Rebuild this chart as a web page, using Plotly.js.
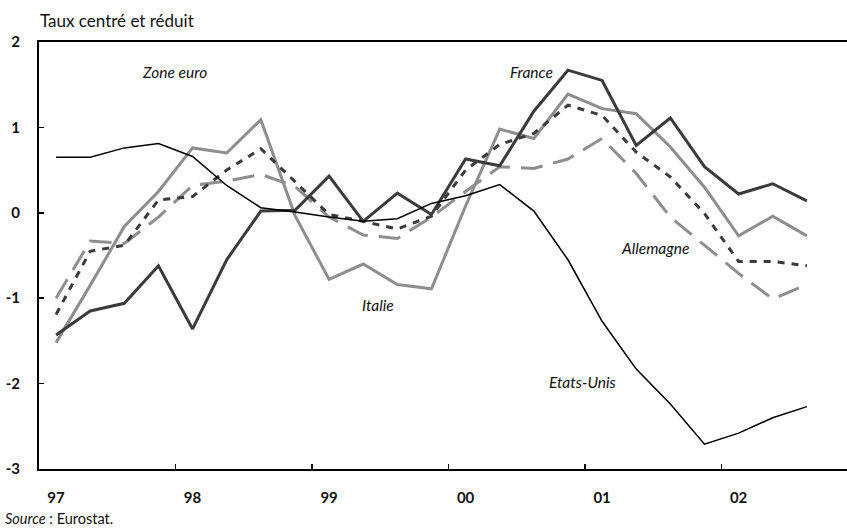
<!DOCTYPE html>
<html>
<head>
<meta charset="utf-8">
<script src="https://cdn.plot.ly/plotly-3.0.1.min.js"></script>
<style>html,body{margin:0;padding:0;background:#fff;}#chart{width:847px;height:532px;}</style>
</head>
<body>
<div id="chart"></div>
<script>
// Quarterly data, 1997 Q1 to 2002 Q3
const startYear = 1997;
const nQuarters = 23;
const yearLabels = ['97', '98', '99', '00', '01', '02'];
const yearValues = [1997, 1998, 1999, 2000, 2001, 2002];

const etatsUnis = [0.65, 0.65, 0.76, 0.81, 0.66, 0.32, 0.06, 0.01, -0.05, -0.10, -0.07, 0.11, 0.20, 0.33, 0.02, -0.55, -1.27, -1.83, -2.24, -2.71, -2.58, -2.40, -2.27];
const france    = [-1.43, -1.15, -1.06, -0.62, -1.36, -0.55, 0.02, 0.03, 0.43, -0.10, 0.23, -0.02, 0.63, 0.55, 1.19, 1.67, 1.55, 0.79, 1.11, 0.54, 0.22, 0.34, 0.14];
const italie    = [-1.52, -0.85, -0.16, 0.25, 0.76, 0.70, 1.09, -0.03, -0.78, -0.60, -0.84, -0.89, 0.08, 0.98, 0.87, 1.39, 1.22, 1.16, 0.77, 0.30, -0.27, -0.04, -0.27];
const zoneEuro  = [-1.19, -0.45, -0.38, 0.15, 0.19, 0.50, 0.75, 0.37, -0.02, -0.10, -0.19, -0.04, 0.50, 0.80, 0.93, 1.26, 1.14, 0.71, 0.42, -0.01, -0.57, -0.57, -0.62];
const allemagne = [-1.00, -0.33, -0.36, -0.05, 0.32, 0.37, 0.45, 0.31, -0.05, -0.26, -0.30, -0.05, 0.25, 0.54, 0.52, 0.63, 0.87, 0.46, -0.05, -0.38, -0.71, -1.01, -0.84];

// x position = middle of each quarter
const x = [];
for (let i = 0; i < nQuarters; i++) x.push(startYear + (i + 0.5) / 4);

const dark = '#3b3b3b';
const light = '#8e8e8e';
const FONT = 'Lato, "Open Sans", sans-serif';

const traces = [
  {x: x, y: italie, name: 'Italie', mode: 'lines', line: {color: light, width: 3}},
  {x: x, y: allemagne, name: 'Allemagne', mode: 'lines', line: {color: light, width: 3, dash: '22px,11px'}},
  {x: x, y: zoneEuro, name: 'Zone euro', mode: 'lines', line: {color: dark, width: 3, dash: '7px,7px'}},
  {x: x, y: france, name: 'France', mode: 'lines', line: {color: dark, width: 3}},
  {x: x, y: etatsUnis, name: 'Etats-Unis', mode: 'lines', line: {color: '#000', width: 1.5}}
];

const labelFont = {family: FONT, size: 15.5, color: '#111', style: 'italic'};
function lab(text, xv, yv) {
  return {text: '<i>' + text + '</i>', x: xv, y: yv, xref: 'x', yref: 'y', showarrow: false,
          font: labelFont, xanchor: 'center', yanchor: 'middle'};
}

const layout = {
  width: 847, height: 532,
  margin: {l: 39, r: 0, t: 42, b: 63, pad: 0},
  paper_bgcolor: '#fff', plot_bgcolor: '#fff',
  showlegend: false,
  font: {family: FONT, size: 14, color: '#111'},
  title: {text: 'Taux centré et réduit', x: 40 / 847, xanchor: 'left', xref: 'container',
          y: 1 - 21 / 532, yanchor: 'middle', yref: 'container',
          font: {family: FONT, size: 17, color: '#111'}},
  xaxis: {
    range: [1997, 2002.919], showgrid: false, zeroline: false,
    showline: true, linecolor: '#000', linewidth: 2, mirror: true,
    tickmode: 'array',
    tickvals: yearValues.map(v => v + 0.125),
    ticktext: yearLabels,
    ticks: '', ticklabelstandoff: 14,
    tickfont: {family: FONT, size: 15, color: '#111', weight: 'bold'},
    minor: {tickmode: 'array', tickvals: yearValues.slice(1), ticks: 'inside', ticklen: 5, tickwidth: 1.5, tickcolor: '#000', showgrid: false}
  },
  yaxis: {
    range: [-3, 2], showgrid: false, zeroline: false,
    showline: true, linecolor: '#000', linewidth: 2,
    tickmode: 'array', tickvals: [-3, -2, -1, 0, 1, 2], ticktext: ['-3', '-2', '-1', '0', '1', '2'],
    ticks: 'inside', ticklen: 5, tickwidth: 1.5, tickcolor: '#000',
    ticklabelstandoff: 14,
    tickfont: {family: FONT, size: 15, color: '#111', weight: 'bold'}
  },
  annotations: [
    lab('Zone euro', 1997.99, 1.65),
    lab('France', 2000.61, 1.65),
    lab('Italie', 1999.48, -1.08),
    lab('Allemagne', 2001.51, -0.41),
    lab('Etats-Unis', 2000.98, -1.98),
    {text: '<i>Source</i> : Eurostat.', xref: 'paper', yref: 'paper', x: -0.045, y: -0.115,
     xanchor: 'left', yanchor: 'middle', showarrow: false, font: {family: FONT, size: 14.5, color: '#111'}}
  ]
};

Plotly.newPlot('chart', traces, layout, {displayModeBar: false, staticPlot: true});
</script>
</body>
</html>
